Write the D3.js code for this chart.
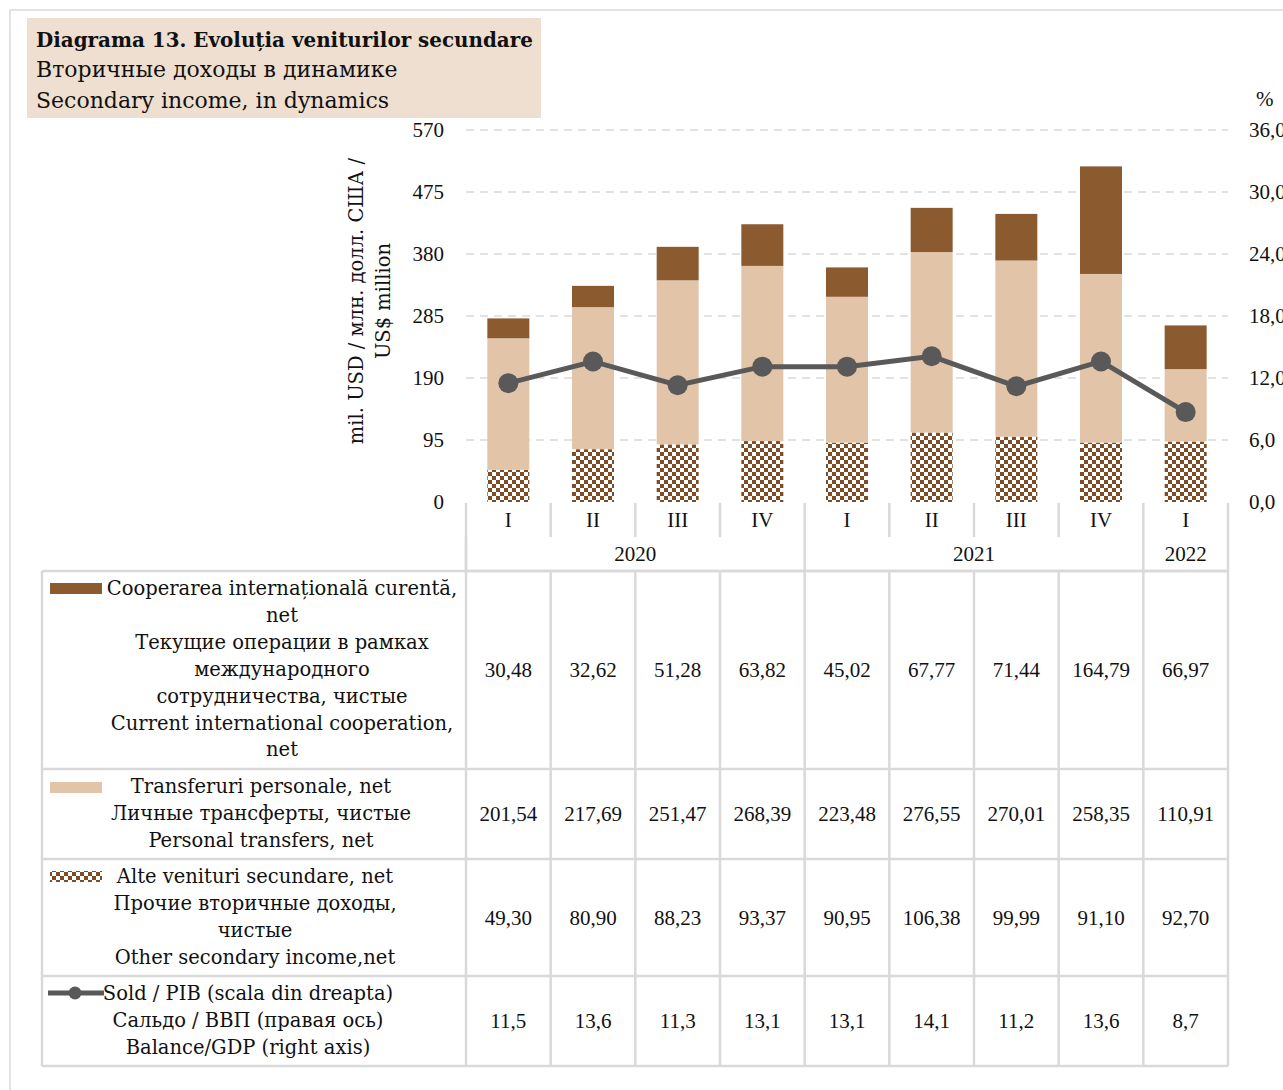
<!DOCTYPE html>
<html><head><meta charset="utf-8">
<script src="https://cdn.jsdelivr.net/npm/d3@7"></script>
<style>body{margin:0;background:#fff;} svg{display:block;font-family:"DejaVu Serif",serif;}</style>
</head><body>
<svg id="c" width="1283" height="1090"></svg>
<script>
const quarters = ["I","II","III","IV","I","II","III","IV","I"];
const years = [{label:"2020", from:0, to:3},{label:"2021", from:4, to:7},{label:"2022", from:8, to:8}];
const coop = [30.48,32.62,51.28,63.82,45.02,67.77,71.44,164.79,66.97];
const personal = [201.54,217.69,251.47,268.39,223.48,276.55,270.01,258.35,110.91];
const other = [49.30,80.90,88.23,93.37,90.95,106.38,99.99,91.10,92.70];
const balance = [11.5,13.6,11.3,13.1,13.1,14.1,11.2,13.6,8.7];
const leftTicks = [0,95,190,285,380,475,570];
const rightTicks = [0,6,12,18,24,30,36];
const fmt2 = v => v.toFixed(2).replace(".", ",");
const fmt1 = v => v.toFixed(1).replace(".", ",");

const NUMF = "Liberation Serif";
const C_COOP = "#8B5A2F", C_PERS = "#E2C4A8", C_OTH = "#7B4E27", C_LINE = "#595959", C_GRID="#D9D9D9";
const svg = d3.select("#c");
const defs = svg.append("defs");
const pat = defs.append("pattern").attr("id","chk").attr("patternUnits","userSpaceOnUse").attr("width",8).attr("height",8);
pat.append("rect").attr("width",8).attr("height",8).attr("fill","#fff");
pat.append("rect").attr("width",4).attr("height",4).attr("fill",C_OTH);
pat.append("rect").attr("x",4).attr("y",4).attr("width",4).attr("height",4).attr("fill",C_OTH);

// frame
svg.append("path").attr("d","M10,1090 V10 H1283").attr("fill","none").attr("stroke","#E3E3E3").attr("stroke-width",2);

// title box
svg.append("rect").attr("x",27).attr("y",18).attr("width",514).attr("height",100).attr("fill","#EFDFD0");
const title = svg.append("g").attr("fill","#111");
title.append("text").attr("x",36).attr("y",47).attr("font-size",19.9).attr("font-weight","bold").text("Diagrama 13. Evoluția veniturilor secundare");
title.append("text").attr("x",36).attr("y",77).attr("font-size",22).text("Вторичные доходы в динамике");
title.append("text").attr("x",36).attr("y",108).attr("font-size",22).text("Secondary income, in dynamics");

const x0 = 466, x1 = 1228, plotTop = 130, plotBot = 502;
const x = d3.scaleBand().domain(d3.range(quarters.length)).range([x0,x1]).paddingInner(0).paddingOuter(0);
const y = d3.scaleLinear().domain([0,570]).range([plotBot,plotTop]);
const y2 = d3.scaleLinear().domain([0,36]).range([plotBot,plotTop]);

// gridlines
svg.append("g").selectAll("line").data(leftTicks.slice(1)).join("line")
  .attr("x1",x0).attr("x2",x1).attr("y1",d=>y(d)).attr("y2",d=>y(d))
  .attr("stroke",C_GRID).attr("stroke-width",1.5).attr("stroke-dasharray","8,6");

// left axis
const ax = svg.append("g").attr("transform",`translate(444,0)`)
  .call(d3.axisLeft(y).tickValues(leftTicks).tickSize(0).tickPadding(0));
ax.select(".domain").remove();
ax.selectAll("text").attr("font-size",21).attr("font-family",NUMF).attr("fill","#111").attr("dy","0.32em");
// right axis
const ax2 = svg.append("g").attr("transform",`translate(1249,0)`)
  .call(d3.axisRight(y2).tickValues(rightTicks).tickSize(0).tickPadding(0).tickFormat(fmt1));
ax2.select(".domain").remove();
ax2.selectAll("text").attr("font-size",21).attr("font-family",NUMF).attr("fill","#111").attr("dy","0.32em");
svg.append("text").attr("x",1256).attr("y",106).attr("font-size",21).attr("font-family",NUMF).attr("fill","#111").text("%");

// y title
const yt = svg.append("text").attr("transform","translate(363,301) rotate(-90)").attr("text-anchor","middle").attr("font-size",19.5).attr("fill","#111");
yt.append("tspan").attr("x",0).attr("dy",0).text("mil. USD / млн. долл. США /");
yt.append("tspan").attr("x",0).attr("dy",27).text("US$ million");

// stacked bars
const bw = 42;
const stack = quarters.map((q,i)=>({i, o:other[i], p:personal[i], c:coop[i]}));
const bars = svg.append("g");
stack.forEach(d=>{
  const cx = x(d.i)+x.bandwidth()/2 - bw/2;
  bars.append("rect").attr("x",cx).attr("width",bw).attr("y",y(d.o)).attr("height",y(0)-y(d.o)).attr("fill","url(#chk)");
  bars.append("rect").attr("x",cx).attr("width",bw).attr("y",y(d.o+d.p)).attr("height",y(d.o)-y(d.o+d.p)).attr("fill",C_PERS);
  bars.append("rect").attr("x",cx).attr("width",bw).attr("y",y(d.o+d.p+d.c)).attr("height",y(d.o+d.p)-y(d.o+d.p+d.c)).attr("fill",C_COOP);
});

// line
const line = d3.line().x((d,i)=>x(i)+x.bandwidth()/2).y(d=>y2(d));
svg.append("path").datum(balance).attr("d",line).attr("fill","none").attr("stroke",C_LINE).attr("stroke-width",5);
svg.append("g").selectAll("circle").data(balance).join("circle")
  .attr("cx",(d,i)=>x(i)+x.bandwidth()/2).attr("cy",d=>y2(d)).attr("r",10).attr("fill",C_LINE);

// table
const T = svg.append("g");
const gl = (xa,ya,xb,yb)=>T.append("line").attr("x1",xa).attr("y1",ya).attr("x2",xb).attr("y2",yb).attr("stroke",C_GRID).attr("stroke-width",2.5);
const rowY = [571,769,859,976,1066];
const legX = 42;
gl(x0,503,x0,571); gl(x1,503,x1,571);
quarters.forEach((q,i)=>{ if(i>0) gl(x(i),503,x(i),537); });
years.forEach(yr=>{ gl(x(yr.from),537,x(yr.from),571); });
gl(x0,571,x1,571);
rowY.forEach(r=>gl(legX,r,x1,r));
gl(legX,571,legX,1066);
quarters.forEach((q,i)=>gl(x(i),571,x(i),1066));
gl(x1,571,x1,1066);

const tn = svg.append("g").attr("font-size",21).attr("font-family",NUMF).attr("fill","#111").attr("text-anchor","middle");
quarters.forEach((q,i)=>tn.append("text").attr("x",x(i)+x.bandwidth()/2).attr("y",527).text(q));
years.forEach(yr=>tn.append("text").attr("x",(x(yr.from)+x(yr.to)+x.bandwidth())/2).attr("y",561).text(yr.label));

const series = [coop.map(fmt2), personal.map(fmt2), other.map(fmt2), balance.map(fmt1)];
series.forEach((vals,r)=>{
  const cy = (rowY[r]+rowY[r+1])/2;
  vals.forEach((v,i)=>tn.append("text").attr("x",x(i)+x.bandwidth()/2).attr("y",cy+7).text(v));
});

// legend labels
const tx = svg.append("g").attr("font-size",19.5).attr("fill","#111").attr("text-anchor","middle");
const legends = [
  {cx:282, y0:595, lines:["Cooperarea internațională curentă,","net","Текущие операции в рамках","международного","сотрудничества, чистые","Current international cooperation,","net"]},
  {cx:261, y0:793, lines:["Transferuri personale, net","Личные трансферты, чистые","Personal transfers, net"]},
  {cx:255, y0:883, lines:["Alte venituri secundare, net","Прочие вторичные доходы,","чистые","Other secondary income,net"]},
  {cx:248, y0:1000, lines:["Sold / PIB (scala din dreapta)","Сальдо / ВВП (правая ось)","Balance/GDP (right axis)"]}
];
legends.forEach(l=>l.lines.forEach((s,k)=>tx.append("text").attr("x",l.cx).attr("y",l.y0+k*26.9).text(s)));
// swatches
svg.append("rect").attr("x",50).attr("y",583).attr("width",52).attr("height",11).attr("fill",C_COOP);
svg.append("rect").attr("x",50).attr("y",782).attr("width",52).attr("height",11).attr("fill",C_PERS);
svg.append("rect").attr("x",50).attr("y",871).attr("width",52).attr("height",11).attr("fill","url(#chk)");
svg.append("line").attr("x1",48).attr("x2",104).attr("y1",993).attr("y2",993).attr("stroke",C_LINE).attr("stroke-width",5);
svg.append("circle").attr("cx",75).attr("cy",993).attr("r",6.5).attr("fill",C_LINE);
</script>
</body></html>
